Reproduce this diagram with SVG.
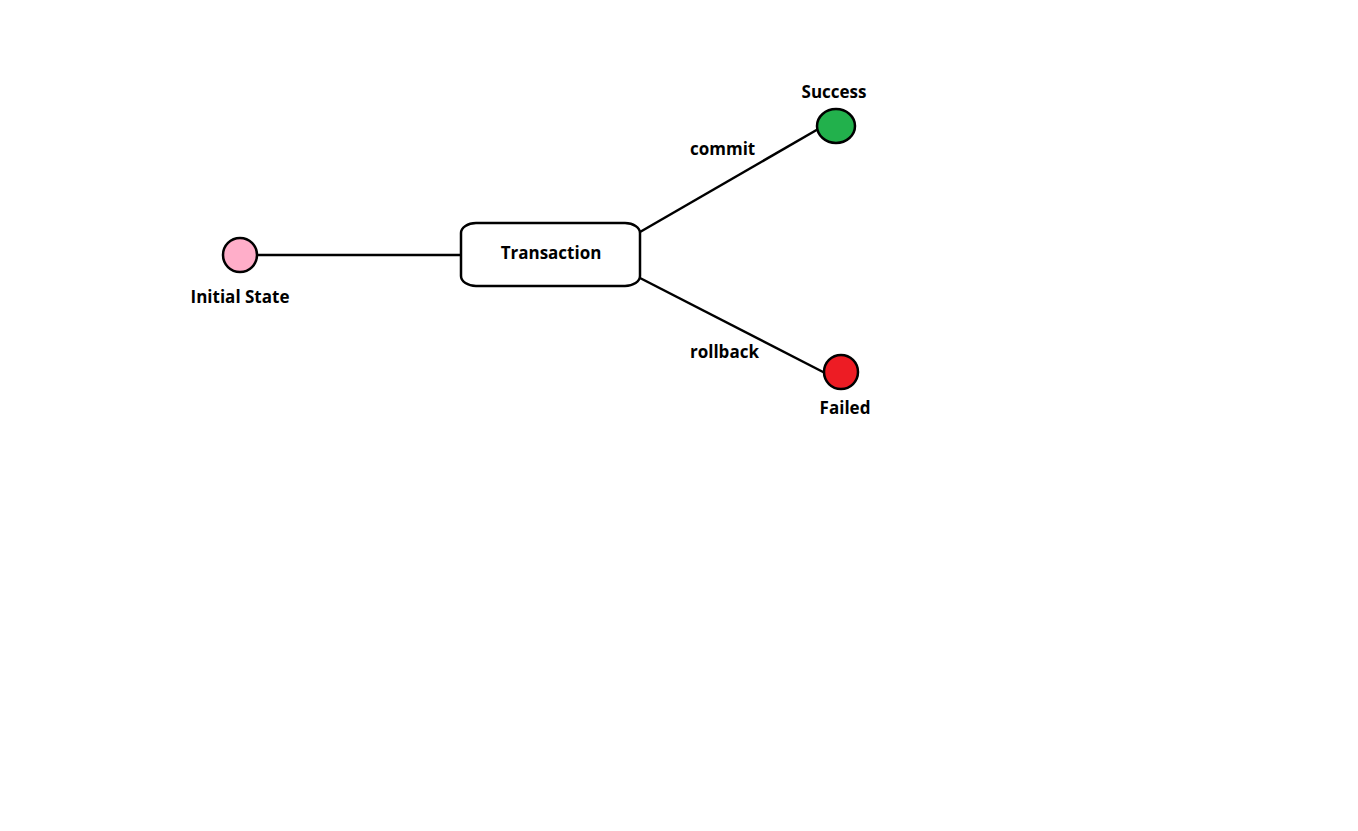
<svg xmlns="http://www.w3.org/2000/svg" width="1358" height="831" viewBox="0 0 1358 831">
  <style>
    .shape { stroke: #000; stroke-width: 2.5; }
    .edge { stroke: #000; stroke-width: 2.5; fill: none; }
    .label { font-family: "Open Sans", "Noto Sans", "DejaVu Sans", sans-serif; font-weight: bold; font-size: 17px; fill: #000; }
  </style>
  <rect width="1358" height="831" fill="#fff"/>
  <g id="connectors">
    <line class="edge" x1="258" y1="255" x2="461" y2="255"/>
    <line class="edge" x1="640" y1="232" x2="820" y2="128"/>
    <line class="edge" x1="640" y1="278" x2="825" y2="373"/>
    <text class="label" x="690" y="155">commit</text>
    <text class="label" x="690" y="358">rollback</text>
  </g>
  <g id="initial-state">
    <circle class="shape" cx="240" cy="255" r="17" fill="#ffaec9"/>
    <text class="label" x="240" y="303" text-anchor="middle">Initial State</text>
  </g>
  <g id="transaction">
    <rect class="shape" x="461" y="223" width="179" height="63" rx="15" ry="10" fill="#fff"/>
    <text class="label" x="551" y="259" text-anchor="middle">Transaction</text>
  </g>
  <g id="success">
    <ellipse class="shape" cx="836" cy="126" rx="19" ry="17" fill="#22b14c"/>
    <text class="label" x="834" y="98" text-anchor="middle">Success</text>
  </g>
  <g id="failed">
    <circle class="shape" cx="841" cy="372" r="17" fill="#ed1c24"/>
    <text class="label" x="845" y="414" text-anchor="middle">Failed</text>
  </g>
</svg>
